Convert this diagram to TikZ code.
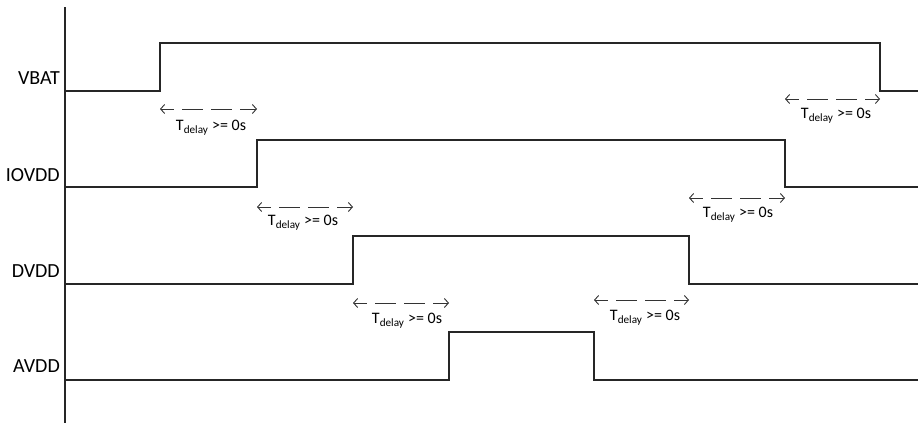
\documentclass[tikz,border=0pt]{standalone}
\usepackage{fontspec}
\setmainfont{Carlito}
\usetikzlibrary{arrows.meta, positioning}

\begin{document}
\begin{tikzpicture}[x=1pt, y=-1pt,
    sig/.style={line width=1.1pt, black!85},
    delay/.style={line width=0.9pt, black!80, dash pattern=on 21pt off 8pt, dash phase=8pt,
      {Straight Barb[length=4pt,width=9pt]}-{Straight Barb[length=4pt,width=9pt]}},
    lbl/.style={anchor=east, inner sep=0pt, font=\fontsize{20}{22}\selectfont},
    dtext/.style={inner sep=0pt, font=\fontsize{16}{18}\selectfont}]
    \useasboundingbox (0,0) rectangle (918,423);

    % Axis
    \draw[sig] (65,7) -- (65,423);

    % Labels
    \node[lbl] (vbat) at (60,78) {VBAT};
    \node[lbl] (iovdd) at (60,175) {IOVDD};
    \node[lbl] (dvdd) at (60,271) {DVDD};
    \node[lbl] (avdd) at (60,366) {AVDD};

    % Signals
    \draw[sig] (65,91) -- (160,91) -- (160,43) -- (880,43) -- (880,91) -- (918,91);
    \draw[sig] (65,187) -- (257,187) -- (257,140) -- (785,140) -- (785,187) -- (918,187);
    \draw[sig] (65,284) -- (353,284) -- (353,236) -- (689,236) -- (689,284) -- (918,284);
    \draw[sig] (65,380) -- (449,380) -- (449,332) -- (594,332) -- (594,380) -- (918,380);

    % Delays, power up
    \coordinate (up1a) at (160,109);
    \coordinate (up1b) at (257,109);
    \draw[delay] (up1a) -- (up1b);
    \node[dtext] (tup1) at (211,128) {T\textsubscript{delay} >= 0s};

    \coordinate (up2a) at (257,207);
    \coordinate (up2b) at (353,207);
    \draw[delay] (up2a) -- (up2b);
    \node[dtext] (tup2) at (303,223) {T\textsubscript{delay} >= 0s};

    \coordinate (up3a) at (353,303);
    \coordinate (up3b) at (449,303);
    \draw[delay] (up3a) -- (up3b);
    \node[dtext] (tup3) at (407,321) {T\textsubscript{delay} >= 0s};

    % Delays, power down
    \coordinate (dn1a) at (594,300);
    \coordinate (dn1b) at (689,300);
    \draw[delay] (dn1a) -- (dn1b);
    \node[dtext] (tdn1) at (645,318) {T\textsubscript{delay} >= 0s};

    \coordinate (dn2a) at (689,198);
    \coordinate (dn2b) at (785,198);
    \draw[delay] (dn2a) -- (dn2b);
    \node[dtext] (tdn2) at (738,215) {T\textsubscript{delay} >= 0s};

    \coordinate (dn3a) at (785,99);
    \coordinate (dn3b) at (880,99);
    \draw[delay] (dn3a) -- (dn3b);
    \node[dtext] (tdn3) at (836,116) {T\textsubscript{delay} >= 0s};
\end{tikzpicture}
\end{document}
